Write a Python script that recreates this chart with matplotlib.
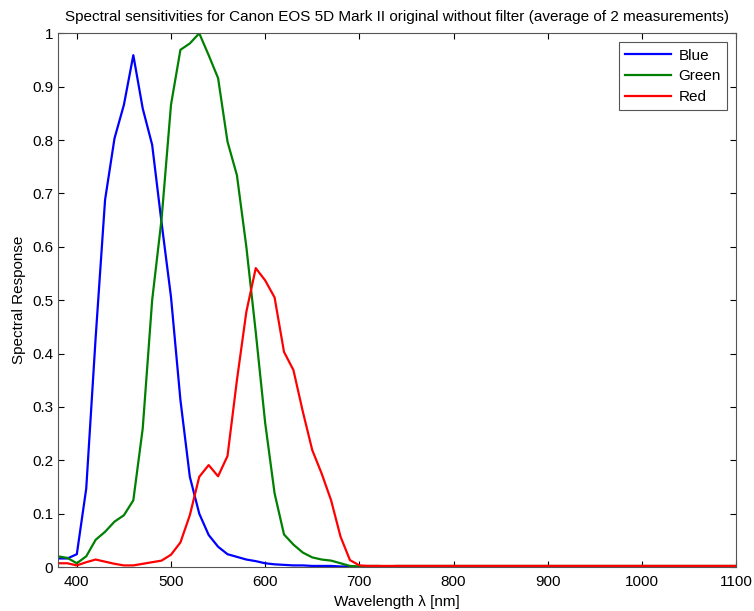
import matplotlib
matplotlib.use("Agg")
import matplotlib.pyplot as plt

plt.rcParams['font.family'] = ['Liberation Sans', 'DejaVu Sans']

# wavelength grid (nm), 380..1100 in steps of 10
wavelength = list(range(380, 1101, 10))

blue = [0.016, 0.016, 0.024, 0.147, 0.43, 0.688, 0.803, 0.866, 0.959, 0.859,
        0.791, 0.645, 0.506, 0.313, 0.169, 0.100, 0.060, 0.038, 0.024, 0.019,
        0.014, 0.011, 0.007, 0.005, 0.004, 0.003, 0.003, 0.002, 0.002, 0.002,
        0.001, 0.001, 0.000, 0.000, 0.000, 0.000, 0.000, 0.000, 0.000, 0.000,
        0.000, 0.000, 0.000, 0.000, 0.000, 0.000, 0.000, 0.000, 0.000, 0.000,
        0.000, 0.000, 0.000, 0.000, 0.000, 0.000, 0.000, 0.000, 0.000, 0.000,
        0.000, 0.000, 0.000, 0.000, 0.000, 0.000, 0.000, 0.000, 0.000, 0.000,
        0.000, 0.000, 0.000]

green = [0.020, 0.017, 0.007, 0.020, 0.051, 0.066, 0.085, 0.097, 0.125, 0.26,
         0.50, 0.652, 0.866, 0.969, 0.981, 1.000, 0.959, 0.916, 0.797, 0.734,
         0.60, 0.44, 0.27, 0.138, 0.061, 0.042, 0.027, 0.018, 0.014, 0.012,
         0.007, 0.002, 0.001, 0.002, 0.002, 0.001, 0.002, 0.002, 0.002, 0.002,
         0.002, 0.002, 0.002, 0.002, 0.002, 0.002, 0.002, 0.002, 0.002, 0.002,
         0.002, 0.002, 0.002, 0.002, 0.002, 0.002, 0.002, 0.002, 0.002, 0.002,
         0.002, 0.002, 0.002, 0.002, 0.002, 0.002, 0.002, 0.002, 0.002, 0.002,
         0.002, 0.002, 0.002]

red = [0.007, 0.007, 0.003, 0.009, 0.014, 0.010, 0.006, 0.003, 0.003, 0.006,
       0.009, 0.012, 0.023, 0.046, 0.097, 0.169, 0.191, 0.170, 0.208, 0.35,
       0.478, 0.560, 0.537, 0.505, 0.403, 0.369, 0.291, 0.219, 0.175, 0.125,
       0.057, 0.013, 0.003, 0.002, 0.002, 0.002, 0.002, 0.002, 0.002, 0.002,
       0.002, 0.002, 0.002, 0.002, 0.002, 0.002, 0.002, 0.002, 0.002, 0.002,
       0.002, 0.002, 0.002, 0.002, 0.002, 0.002, 0.002, 0.002, 0.002, 0.002,
       0.002, 0.002, 0.002, 0.002, 0.002, 0.002, 0.002, 0.002, 0.002, 0.002,
       0.002, 0.002, 0.002]

fig = plt.figure(figsize=(7.54, 6.11), dpi=100)
ax = fig.add_axes([0.0769, 0.072, 0.8993, 0.8735])

ax.plot(wavelength, blue, color='#0000ff', lw=1.6, label='Blue')
ax.plot(wavelength, green, color='#008000', lw=1.6, label='Green')
ax.plot(wavelength, red, color='#ff0000', lw=1.6, label='Red')

ax.set_xlim(380, 1100)
ax.set_ylim(0, 1)
ax.set_xticks(range(400, 1101, 100))
ax.set_yticks([i / 10 for i in range(11)])
ax.set_yticklabels(['0', '0.1', '0.2', '0.3', '0.4', '0.5', '0.6', '0.7', '0.8', '0.9', '1'])
ax.tick_params(direction='in', top=True, right=True, length=4, labelsize=11, colors='black')
ax.tick_params(axis='x', pad=6)
for s in ax.spines.values():
    s.set_color('#555555')

ax.set_xlabel('Wavelength λ [nm]', fontsize=11, labelpad=4)
ax.set_ylabel('Spectral Response', fontsize=11, labelpad=4)
ax.set_title('Spectral sensitivities for Canon EOS 5D Mark II original without filter (average of 2 measurements)',
             fontsize=11, pad=9)

leg = ax.legend(loc='upper right', fontsize=11, fancybox=False, framealpha=1,
                edgecolor='#555555', handlelength=3.0, handletextpad=0.5,
                borderaxespad=0.6, labelspacing=0.45)
leg.get_frame().set_linewidth(0.8)

fig.savefig('out.png', dpi=100)
